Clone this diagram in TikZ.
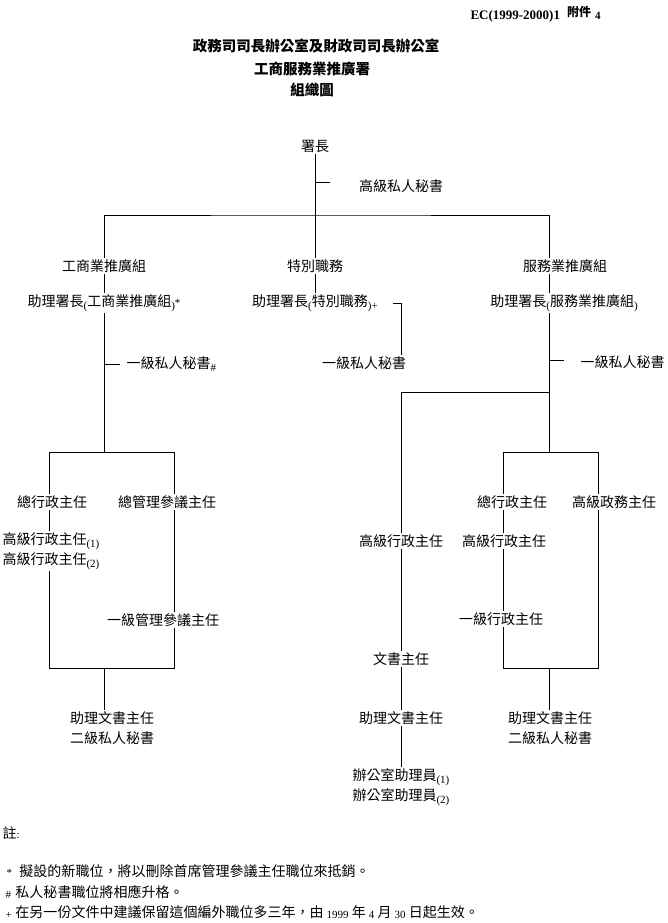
\documentclass[tikz,border=0pt]{standalone}
\usepackage{fontspec}
\setmainfont{Liberation Serif}
\newfontfamily\cjk{Noto Sans CJK TC}
% small serif marks set below the line
\newcommand{\lsub}[1]{\raisebox{-3pt}{\rmfamily\fontsize{11}{11}\selectfont #1}}
\newcommand{\nsub}[1]{\raisebox{-1.5pt}{\rmfamily\fontsize{11}{11}\selectfont #1}}
\tikzset{
  post/.style={font=\cjk\fontsize{14}{20}\selectfont, inner sep=1pt, align=center},
  twoline/.style={post, anchor=west, align=left},
  note/.style={post, anchor=west, inner sep=0pt}
}
\begin{document}
\begin{tikzpicture}[x=1pt,y=-1pt,line width=1pt]
  \useasboundingbox (0,0) rectangle (667,923);

  % heading
  \node[anchor=west,inner sep=0pt] (ref) at (470,14)
    {\fontsize{13}{13}\selectfont\bfseries EC(1999-2000)1\hspace{7pt}\raisebox{3pt}{\cjk\bfseries\fontsize{12}{12}\selectfont 附件}\hspace{4pt}{\fontsize{11}{11}\selectfont 4}};
  \node[post,font=\cjk\bfseries\fontsize{14.5}{16}\selectfont] (t1) at (316,46) {政務司司長辦公室及財政司司長辦公室};
  \node[post,font=\cjk\bfseries\fontsize{14.5}{16}\selectfont] (t2) at (312,69) {工商服務業推廣署};
  \node[post,font=\cjk\bfseries\fontsize{14.5}{16}\selectfont] (t3) at (312,90) {組織圖};

  % top of the chart
  \node[post] (dir) at (315,146) {署長};
  \node[post] (sps) at (401,186) {高級私人秘書};
  \node[post] (cib) at (104,266) {工商業推廣組};
  \node[post] (spd) at (315,266) {特別職務};
  \node[post] (ssd) at (565,266) {服務業推廣組};
  \node[post] (adc) at (104,303) {助理署長\lsub{(}工商業推廣組\lsub{)}{\rmfamily\fontsize{11}{11}\selectfont *}};
  \node[post] (ads) at (315,303) {助理署長\lsub{(}特別職務\lsub{)+}};
  \node[post] (adr) at (564,303) {助理署長\lsub{(}服務業推廣組\lsub{)}};
  \node[post,anchor=west] (psl) at (125,364) {一級私人秘書\lsub{\#}};
  \node[post] (psm) at (364,363) {一級私人秘書};
  \node[post,anchor=west] (psr) at (579,362) {一級私人秘書};

  % left branch
  \node[post] (ceol) at (52,502) {總行政主任};
  \node[post] (cmcl) at (167,502) {總管理參議主任};
  \node[twoline] (seol) at (1,551) {高級行政主任\lsub{(1)}\\高級行政主任\lsub{(2)}};
  \node[post] (mcl) at (163,620) {一級管理參議主任};
  \node[post] (acol) at (112,728) {助理文書主任\\二級私人秘書};

  % middle column
  \node[post] (seom) at (401,541) {高級行政主任};
  \node[post] (com) at (401,659) {文書主任};
  \node[post] (acom) at (401,718) {助理文書主任};
  \node[twoline] (oam) at (351,787) {辦公室助理員\lsub{(1)}\\辦公室助理員\lsub{(2)}};

  % right branch
  \node[post] (ceor) at (512,502) {總行政主任};
  \node[post] (sao) at (614,502) {高級政務主任};
  \node[post] (seor) at (504,541) {高級行政主任};
  \node[post] (eor) at (501,619) {一級行政主任};
  \node[post] (acor) at (550,728) {助理文書主任\\二級私人秘書};

  %% the lines
  \coordinate (topbus) at (315,215);
  \coordinate (rx) at (549,0);
  \coordinate (tkt) at (315,182);
  \draw (dir.south) -- (spd.north);
  \draw (tkt) -- ++(15,0);
  \draw (cib.north) |- (topbus) -| (ssd.north -| rx);
  \draw (cib.south) -- (adc.north);
  \draw (spd.south) -- (ads.north);
  \draw (ssd.south -| rx) -- (adr.north -| rx);

  % left
  \coordinate (lb) at (49,452);
  \coordinate (lbe) at (174,452);
  \coordinate (tkl) at (104,364);
  \coordinate (lf) at (49,668);
  \coordinate (lfe) at (174,668);
  \coordinate (lfm) at (104,668);
  \draw (adc.south) -- (adc.south |- lb);
  \draw (tkl) -- ++(16,0);
  \draw (ceol.north -| lb) -- (lb) -- (lbe) -- (cmcl.north -| lbe);
  \draw (ceol.south -| lb) -- (seol.north -| lb);
  \draw (seol.south -| lb) -- (lf) -- (lfe) -- (mcl.south -| lfe);
  \draw (mcl.north -| lfe) -- (cmcl.south -| lfe);
  \draw (lfm) -- (acol.north -| lfm);

  % middle
  \coordinate (brk) at (393,303);
  \coordinate (mx) at (401,392);
  \draw (brk) -| (psm.north -| mx);
  \draw (seom.south) -- (com.north);
  \draw (com.south) -- (acom.north);
  \draw (acom.south) -- (oam.north -| mx);

  % right
  \coordinate (rg) at (549,452);
  \coordinate (rb) at (549,392);
  \coordinate (tkr) at (549,360);
  \coordinate (rgl) at (503,452);
  \coordinate (rgr) at (598,452);
  \coordinate (rfl) at (503,668);
  \coordinate (rfr) at (598,668);
  \coordinate (rfm) at (549,668);
  \draw (adr.south -| rx) -- (rg);
  \draw (tkr) -- ++(15,0);
  \draw (rb) -- (mx) -- (seom.north -| mx);
  \draw (ceor.north -| rgl) -- (rgl) -- (rgr) -- (sao.north -| rgr);
  \draw (ceor.south -| rgl) -- (seor.north -| rgl);
  \draw (seor.south -| rgl) -- (eor.north -| rgl);
  \draw (eor.south -| rfl) -- (rfl) -- (rfr) -- (sao.south -| rfr);
  \draw (rfm) -- (acor.north -| rfm);

  % notes
  \node[note] (nt) at (2,833) {註{\rmfamily\fontsize{11}{11}\selectfont :}};
  \node[note] (n1) at (3,871) {\makebox[16pt][l]{\hspace{3pt}\rmfamily\fontsize{11}{11}\selectfont *}擬設的新職位，將以刪除首席管理參議主任職位來抵銷。};
  \node[note] (n2) at (3,892) {\makebox[12pt][l]{\hspace{2pt}\nsub{\#}}私人秘書職位將相應升格。};
  \node[note] (n3) at (3,912) {\makebox[12pt][l]{\hspace{2pt}\nsub{+}}在另一份文件中建議保留這個編外職位多三年，由 \nsub{1999} 年 \nsub{4} 月 \nsub{30} 日起生效。};
\end{tikzpicture}
\end{document}
